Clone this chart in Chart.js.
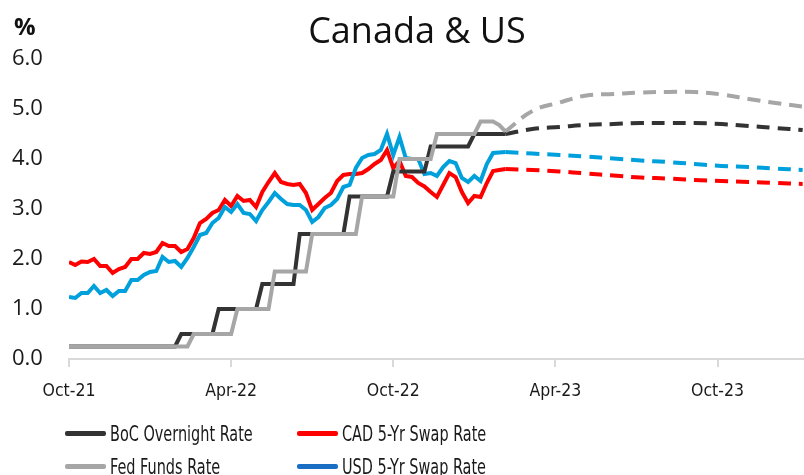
<!DOCTYPE html>
<html lang="en">
<head>
<meta charset="UTF-8">
<title>Canada & US</title>
<script src="https://cdn.jsdelivr.net/npm/chart.js"></script>
<style>
  html, body { margin: 0; padding: 0; background: #fff; overflow: hidden; }
  .wrap { position: relative; width: 804px; height: 475px; }
  .title {
    position: absolute; left: 0; width: 834px; top: 8px; text-align: center;
    font-family: "Open Sans", sans-serif; font-size: 36px; color: #111; line-height: 44px;
  }
  .unit {
    position: absolute; left: 14px; top: 9px;
    font-family: "Open Sans", sans-serif; font-weight: bold; font-size: 24px; color: #111;
  }
  /* legend text is narrow in the original */
  .lg { position: absolute; font-family: "DejaVu Sans Condensed", "DejaVu Sans", sans-serif;
        font-size: 22px; color: #1a1a1a; white-space: nowrap; line-height: 26px;
        transform: scaleX(0.73); transform-origin: left center; }
  .sw { position: absolute; width: 41px; height: 5px; border-radius: 2px; }
</style>
</head>
<body>
<div class="wrap">
  <canvas id="chart" width="804" height="475"></canvas>
  <div class="title">Canada &amp; US</div>
  <div class="unit">%</div>
  <!-- legend, two columns -->
  <div class="sw" style="left:65px;top:431px;background:#333333"></div>
  <div class="lg" style="left:110px;top:421px">BoC Overnight Rate</div>
  <div class="sw" style="left:297px;top:431px;background:#ff0000"></div>
  <div class="lg" style="left:342px;top:421px">CAD 5-Yr Swap Rate</div>
  <div class="sw" style="left:65px;top:464px;background:#a6a6a6"></div>
  <div class="lg" style="left:110px;top:454px">Fed Funds Rate</div>
  <div class="sw" style="left:297px;top:464px;background:#1a6fc4"></div>
  <div class="lg" style="left:342px;top:454px">USD 5-Yr Swap Rate</div>
</div>
<script>
// x axis: months since Oct-21
var tickMonths = [0, 6, 12, 18, 24];
var tickLabels = ['Oct-21', 'Apr-22', 'Oct-22', 'Apr-23', 'Oct-23'];

// weekly history, Oct-21 to early Feb-23
var bocRate = [0.25, 0.25, 0.25, 0.25, 0.25, 0.25, 0.25, 0.25, 0.25, 0.25,
  0.25, 0.25, 0.25, 0.25, 0.25, 0.25, 0.25, 0.25, 0.5, 0.5,
  0.5, 0.5, 0.5, 0.5, 1.0, 1.0, 1.0, 1.0, 1.0, 1.0,
  1.0, 1.5, 1.5, 1.5, 1.5, 1.5, 1.5, 2.5, 2.5, 2.5,
  2.5, 2.5, 2.5, 2.5, 2.5, 3.25, 3.25, 3.25, 3.25, 3.25,
  3.25, 3.25, 3.75, 3.75, 3.75, 3.75, 3.75, 3.75, 4.25, 4.25,
  4.25, 4.25, 4.25, 4.25, 4.25, 4.5, 4.5, 4.5, 4.5, 4.5,
  4.5];
var fedFunds = [0.25, 0.25, 0.25, 0.25, 0.25, 0.25, 0.25, 0.25, 0.25, 0.25,
  0.25, 0.25, 0.25, 0.25, 0.25, 0.25, 0.25, 0.25, 0.25, 0.25,
  0.5, 0.5, 0.5, 0.5, 0.5, 0.5, 0.5, 1.0, 1.0, 1.0,
  1.0, 1.0, 1.0, 1.75, 1.75, 1.75, 1.75, 1.75, 1.75, 2.5,
  2.5, 2.5, 2.5, 2.5, 2.5, 2.5, 2.5, 3.25, 3.25, 3.25,
  3.25, 3.25, 3.25, 4.0, 4.0, 4.0, 4.0, 4.0, 4.0, 4.5,
  4.5, 4.5, 4.5, 4.5, 4.5, 4.5, 4.75, 4.75, 4.75, 4.68,
  4.55];
var cad5y = [1.94, 1.88, 1.95, 1.94, 2.0, 1.86, 1.86, 1.72, 1.80, 1.84,
  2.0, 2.0, 2.12, 2.1, 2.14, 2.32, 2.26, 2.26, 2.14, 2.2,
  2.42, 2.72, 2.8, 2.92, 2.98, 3.18, 3.06, 3.26, 3.16, 3.18,
  3.04, 3.34, 3.54, 3.72, 3.54, 3.5, 3.48, 3.5, 3.32, 2.98,
  3.1, 3.22, 3.32, 3.56, 3.68, 3.7, 3.7, 3.72, 3.8, 3.9,
  3.98, 4.18, 3.82, 3.96, 3.66, 3.64, 3.52, 3.45, 3.34, 3.24,
  3.48, 3.72, 3.64, 3.34, 3.12, 3.26, 3.24, 3.52, 3.76, 3.78,
  3.8];
var usd5y = [1.24, 1.22, 1.32, 1.32, 1.46, 1.32, 1.38, 1.26, 1.36, 1.36,
  1.58, 1.58, 1.68, 1.74, 1.76, 2.04, 1.94, 1.96, 1.84, 2.02,
  2.24, 2.48, 2.52, 2.72, 2.82, 3.04, 2.94, 3.1, 2.92, 2.9,
  2.76, 2.98, 3.14, 3.32, 3.2, 3.1, 3.08, 3.08, 2.98, 2.74,
  2.84, 3.02, 3.08, 3.2, 3.44, 3.48, 3.82, 4.02, 4.08, 4.1,
  4.18, 4.5, 4.08, 4.44, 4.02, 4.0, 4.0, 3.7, 3.72, 3.66,
  3.84, 3.96, 3.92, 3.62, 3.54, 3.66, 3.56, 3.9, 4.12, 4.13,
  4.14];

// monthly forecasts
var fcstMonths = [16.15, 17.15, 18.15, 19.15, 20.15, 21.15, 22.15, 23.15, 24.15, 25.15, 26.15, 27.15];
var bocFcst = [4.5, 4.6, 4.64, 4.68, 4.7, 4.72, 4.72, 4.72, 4.7, 4.66, 4.62, 4.58];
var fedFcst = [4.55, 4.96, 5.13, 5.27, 5.3, 5.33, 5.34, 5.34, 5.29, 5.2, 5.12, 5.05];
var cadFcst = [3.8, 3.78, 3.75, 3.71, 3.67, 3.63, 3.61, 3.58, 3.56, 3.54, 3.52, 3.5];
var usdFcst = [4.14, 4.11, 4.08, 4.05, 4.01, 3.97, 3.94, 3.9, 3.86, 3.84, 3.81, 3.78];

var colors = { boc: '#333333', fed: '#a6a6a6', cad: '#ff0000', usd: '#00a0dc' };

function weekly(arr) {
  return arr.map(function (v, i) { return { x: i * 12 / 52, y: v }; });
}
function monthly(arr) {
  return arr.map(function (v, i) { return { x: fcstMonths[i], y: v }; });
}
function solid(label, data, color, order) {
  return { label: label, data: weekly(data), borderColor: color, borderWidth: 4,
           pointRadius: 0, tension: 0, order: order };
}
function dashed(label, data, color, order) {
  return { label: label, data: monthly(data), borderColor: color, borderWidth: 4,
           borderDash: [13, 8], pointRadius: 0, tension: 0.4, order: order };
}

new Chart(document.getElementById('chart'), {
  type: 'line',
  data: {
    datasets: [
      solid('USD 5-Yr Swap Rate', usd5y, colors.usd, 3),
      solid('CAD 5-Yr Swap Rate', cad5y, colors.cad, 4),
      solid('Fed Funds Rate', fedFunds, colors.fed, 1),
      solid('BoC Overnight Rate', bocRate, colors.boc, 2),
      dashed('USD forecast', usdFcst, colors.usd, 5),
      dashed('CAD forecast', cadFcst, colors.cad, 6),
      dashed('Fed forecast', fedFcst, colors.fed, 7),
      dashed('BoC forecast', bocFcst, colors.boc, 8)
    ]
  },
  options: {
    responsive: false,
    animation: false,
    layout: { padding: { top: 59, left: 12, right: 0, bottom: 0 } },
    plugins: { legend: { display: false }, tooltip: { enabled: false } },
    scales: {
      x: {
        type: 'linear',
        min: 0,
        max: 27.2,
        afterFit: function (s) { s.height = 116; },
        afterBuildTicks: function (s) { s.ticks = tickMonths.map(function (v) { return { value: v }; }); },
        grid: { drawOnChartArea: false, color: '#d9d9d9', lineWidth: 2, tickLength: 8 },
        border: { color: '#d9d9d9', width: 2 },
        ticks: {
          font: { family: '"DejaVu Sans Condensed", "DejaVu Sans", sans-serif', size: 17.5 },
          color: '#1a1a1a', padding: 14, maxRotation: 0, autoSkip: false,
          callback: function (v) { var i = tickMonths.indexOf(v); return i >= 0 ? tickLabels[i] : ''; }
        }
      },
      y: {
        min: 0,
        max: 6,
        afterFit: function (s) { s.width = 57; },
        grid: { display: false },
        border: { display: false },
        ticks: {
          stepSize: 1, crossAlign: 'far', color: '#1a1a1a',
          font: { family: '"Open Sans", sans-serif', size: 22 },
          callback: function (v) { return v.toFixed(1); }
        }
      }
    }
  }
});
</script>
</body>
</html>
